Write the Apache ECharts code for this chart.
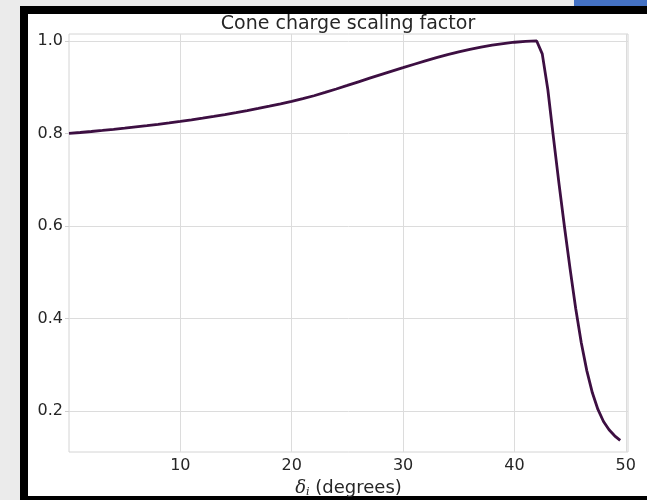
<!DOCTYPE html>
<html>
<head>
<meta charset="utf-8">
<script src="https://cdn.jsdelivr.net/npm/echarts@6/dist/echarts.min.js"></script>
<style>
html, body { margin: 0; padding: 0; width: 647px; height: 500px; overflow: hidden; background: #ebebeb; }
#tab { position: absolute; left: 574px; top: 0; width: 80px; height: 6px; background: #4472c4; }
#frame { position: absolute; left: 20px; top: 6px; width: 700px; height: 482px; background: #fff;
  border-left: 8px solid #000; border-top: 8px solid #000; border-bottom: 8px solid #000; }
#chart { position: absolute; left: 0; top: 0; width: 647px; height: 500px; }
</style>
</head>
<body>
<div id="tab"></div>
<div id="frame"></div>
<div id="chart"></div>
<script>
// cone half-angle (degrees) and the scaling factor
const degrees = [
	0, 1, 2, 3, 4, 5, 6, 7, 8, 9,
	10, 11, 12, 13, 14, 15, 16, 17, 18, 19,
	20, 21, 22, 23, 24, 25, 26, 27, 28, 29,
	30, 31, 32, 33, 34, 35, 36, 37, 38, 39,
	40, 41, 42, 42.5, 43, 43.5, 44, 44.5, 45, 45.5,
	46, 46.5, 47, 47.5, 48, 48.5, 49, 49.5
]
const factor = [
	0.8000, 0.8020, 0.8041, 0.8064, 0.8088, 0.8113, 0.8140, 0.8167, 0.8196, 0.8227,
	0.8259, 0.8293, 0.8329, 0.8367, 0.8407, 0.8450, 0.8494, 0.8541, 0.8590, 0.8641,
	0.8694, 0.8751, 0.8815, 0.8886, 0.8961, 0.9038, 0.9116, 0.9194, 0.9271, 0.9347,
	0.9421, 0.9496, 0.9568, 0.9637, 0.9702, 0.9763, 0.9818, 0.9867, 0.9909, 0.9944,
	0.9972, 0.9992, 1.0000, 0.9720, 0.8950, 0.7920, 0.6920, 0.5970, 0.5070, 0.4220,
	0.3480, 0.2870, 0.2390, 0.2030, 0.1770, 0.1590, 0.1460, 0.1360
]
const xTicks = [10, 20, 30, 40, 50]
const yTicks = [0.2, 0.4, 0.6, 0.8, 1.0]

const textColor = '#262626'
const gridColor = '#dcdcdc'

const chart = echarts.init(document.getElementById('chart'))

chart.setOption({
	animation: false,
	backgroundColor: 'transparent',
	title: {
		text: 'Cone charge scaling factor',
		left: 348,
		top: 15,
		padding: 0,
		textAlign: 'center',
		textStyle: { fontFamily: 'DejaVu Sans', fontSize: 19, fontWeight: 'normal', color: textColor }
	},
	grid: {
		left: 69,
		right: 19,
		top: 34,
		bottom: 48,
		outerBoundsMode: 'none',
		show: true,
		borderColor: '#d4d4d4',
		borderWidth: 1
	},
	xAxis: {
		type: 'value',
		min: 0,
		max: 50.2,
		name: '{d|δ}{i|i} (degrees)',
		nameLocation: 'middle',
		nameGap: 24,
		nameTextStyle: {
			fontFamily: 'DejaVu Sans',
			fontSize: 18,
			color: textColor,
			rich: {
				d: { fontFamily: 'DejaVu Serif', fontStyle: 'italic', fontSize: 18, color: textColor },
				i: { fontFamily: 'DejaVu Serif', fontStyle: 'italic', fontSize: 11, color: textColor, padding: [9, 0, 0, 0] }
			}
		},
		axisLine: { show: false },
		axisTick: { show: false, customValues: xTicks },
		axisLabel: {
			customValues: xTicks,
			fontFamily: 'DejaVu Sans',
			fontSize: 16,
			color: textColor,
			margin: 6
		},
		splitLine: { lineStyle: { color: gridColor, width: 1 } }
	},
	yAxis: {
		type: 'value',
		min: 0.111,
		max: 1.015,
		axisLine: { show: false },
		axisTick: { show: true, length: 4, customValues: yTicks, lineStyle: { color: '#cfcfcf' } },
		axisLabel: {
			customValues: yTicks,
			formatter: v => v.toFixed(1),
			fontFamily: 'DejaVu Sans',
			fontSize: 16,
			color: textColor,
			margin: 6
		},
		splitLine: { lineStyle: { color: gridColor, width: 1 } }
	},
	series: [
		{
			type: 'line',
			data: degrees.map((d, i) => [d, factor[i]]),
			showSymbol: false,
			smooth: false,
			lineStyle: { color: '#3d0f42', width: 2.8 }
		}
	]
})
</script>
</body>
</html>
